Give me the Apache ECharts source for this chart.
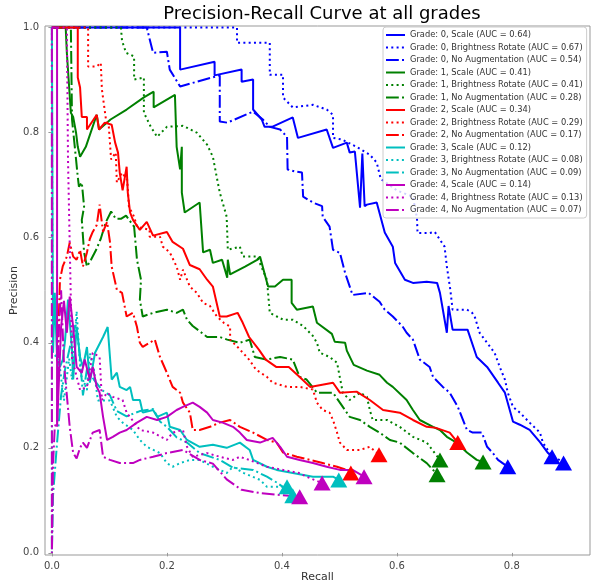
<!DOCTYPE html>
<html>
<head>
<meta charset="utf-8">
<script src="https://cdn.jsdelivr.net/npm/echarts@6/dist/echarts.min.js"></script>
<style>
  html, body { margin: 0; padding: 0; background: #fff; }
  #chart { width: 591px; height: 585px; }
</style>
</head>
<body>
<div id="chart"></div>
<script>
// tick labels
const recallTicks = [0, 0.2, 0.4, 0.6, 0.8];
const precisionTicks = [0, 0.2, 0.4, 0.6, 0.8, 1.0];

const grades = ["0", "1", "2", "3", "4"];
const gradeColors = ["#0000ff", "#008000", "#ff0000", "#00bfbf", "#bf00bf"];
const methods = ["Scale", "Brightness Rotate", "No Augmentation"];
const aucs = [
  [0.64, 0.67, 0.54],
  [0.41, 0.41, 0.28],
  [0.34, 0.29, 0.17],
  [0.12, 0.08, 0.09],
  [0.14, 0.13, 0.07],
];

// [recall, precision]
const g0Scale = [[0,1],[0.223,1],[0.223,0.92],[0.283,0.935],[0.283,0.909],[0.330,0.92],[0.330,0.897],[0.350,0.901],[0.350,0.844],[0.365,0.825],[0.370,0.811],[0.383,0.811],[0.419,0.829],[0.428,0.79],[0.478,0.806],[0.489,0.771],[0.513,0.781],[0.518,0.762],[0.527,0.764],[0.536,0.657],[0.540,0.76],[0.544,0.66],[0.548,0.663],[0.565,0.667],[0.579,0.61],[0.593,0.583],[0.597,0.552],[0.614,0.52],[0.628,0.514],[0.652,0.516],[0.670,0.514],[0.675,0.495],[0.687,0.419],[0.690,0.47],[0.697,0.425],[0.723,0.425],[0.739,0.373],[0.757,0.354],[0.776,0.324],[0.788,0.305],[0.802,0.25],[0.814,0.244],[0.831,0.234],[0.849,0.211],[0.863,0.19],[0.870,0.183]];
const g0Bright = [[0,1],[0.322,1],[0.322,0.971],[0.379,0.971],[0.379,0.91],[0.402,0.91],[0.402,0.867],[0.419,0.848],[0.454,0.853],[0.478,0.844],[0.489,0.834],[0.489,0.79],[0.504,0.787],[0.530,0.773],[0.553,0.758],[0.565,0.743],[0.572,0.712],[0.600,0.69],[0.628,0.678],[0.635,0.638],[0.636,0.609],[0.657,0.609],[0.666,0.611],[0.683,0.583],[0.687,0.545],[0.693,0.501],[0.697,0.463],[0.722,0.463],[0.731,0.457],[0.736,0.448],[0.744,0.419],[0.757,0.4],[0.770,0.381],[0.779,0.354],[0.788,0.33],[0.793,0.305],[0.802,0.278],[0.814,0.267],[0.831,0.248],[0.849,0.229],[0.854,0.21],[0.866,0.19],[0.890,0.171]];
const g0NoAug = [[0,1],[0.165,1],[0.176,0.952],[0.200,0.954],[0.205,0.92],[0.223,0.888],[0.292,0.909],[0.292,0.821],[0.305,0.819],[0.350,0.84],[0.367,0.825],[0.379,0.811],[0.397,0.806],[0.409,0.792],[0.410,0.73],[0.423,0.726],[0.435,0.724],[0.437,0.678],[0.454,0.667],[0.470,0.66],[0.471,0.64],[0.483,0.621],[0.489,0.577],[0.501,0.571],[0.510,0.533],[0.523,0.491],[0.551,0.495],[0.570,0.478],[0.579,0.463],[0.593,0.45],[0.610,0.431],[0.617,0.419],[0.628,0.406],[0.640,0.368],[0.657,0.354],[0.663,0.335],[0.680,0.316],[0.692,0.305],[0.706,0.278],[0.722,0.234],[0.732,0.229],[0.748,0.229],[0.757,0.202],[0.767,0.19],[0.776,0.177],[0.793,0.164]];

const g1Scale = [[0,1],[0.024,1],[0.026,0.952],[0.033,0.838],[0.037,0.83],[0.042,0.8],[0.045,0.773],[0.049,0.754],[0.059,0.773],[0.078,0.834],[0.082,0.806],[0.102,0.825],[0.130,0.844],[0.160,0.867],[0.177,0.878],[0.177,0.848],[0.214,0.872],[0.217,0.773],[0.223,0.73],[0.226,0.773],[0.226,0.686],[0.231,0.648],[0.257,0.667],[0.263,0.572],[0.275,0.577],[0.280,0.552],[0.296,0.558],[0.305,0.524],[0.306,0.558],[0.310,0.53],[0.336,0.545],[0.357,0.558],[0.362,0.564],[0.376,0.507],[0.388,0.507],[0.402,0.52],[0.417,0.52],[0.417,0.476],[0.426,0.463],[0.454,0.469],[0.461,0.438],[0.487,0.417],[0.492,0.402],[0.510,0.4],[0.513,0.385],[0.525,0.358],[0.548,0.347],[0.570,0.339],[0.583,0.324],[0.593,0.316],[0.617,0.291],[0.628,0.272],[0.640,0.253],[0.663,0.24],[0.675,0.234],[0.687,0.221],[0.704,0.21],[0.722,0.191],[0.739,0.177],[0.750,0.173]];
const g1Bright = [[0,1],[0.120,1],[0.122,0.975],[0.129,0.952],[0.143,0.945],[0.143,0.901],[0.160,0.905],[0.160,0.838],[0.172,0.811],[0.183,0.792],[0.200,0.811],[0.228,0.813],[0.252,0.8],[0.270,0.777],[0.280,0.754],[0.287,0.714],[0.292,0.686],[0.304,0.64],[0.306,0.577],[0.327,0.583],[0.332,0.564],[0.357,0.564],[0.374,0.52],[0.379,0.457],[0.402,0.444],[0.419,0.444],[0.437,0.432],[0.454,0.413],[0.461,0.4],[0.466,0.381],[0.483,0.373],[0.496,0.362],[0.506,0.305],[0.518,0.291],[0.536,0.305],[0.548,0.297],[0.553,0.272],[0.558,0.253],[0.583,0.253],[0.605,0.24],[0.628,0.221],[0.652,0.21],[0.675,0.177]];
const g1NoAug = [[0,1],[0.033,1],[0.035,0.825],[0.042,0.749],[0.045,0.716],[0.047,0.697],[0.052,0.705],[0.056,0.659],[0.052,0.634],[0.056,0.572],[0.061,0.545],[0.068,0.558],[0.077,0.577],[0.085,0.598],[0.094,0.63],[0.103,0.65],[0.111,0.636],[0.120,0.636],[0.129,0.642],[0.143,0.621],[0.148,0.558],[0.155,0.52],[0.153,0.482],[0.158,0.45],[0.176,0.457],[0.200,0.463],[0.217,0.457],[0.228,0.463],[0.235,0.444],[0.245,0.432],[0.270,0.411],[0.292,0.411],[0.305,0.406],[0.327,0.4],[0.344,0.406],[0.353,0.373],[0.374,0.368],[0.397,0.373],[0.419,0.368],[0.431,0.335],[0.443,0.33],[0.461,0.305],[0.478,0.305],[0.489,0.305],[0.506,0.278],[0.518,0.259],[0.536,0.253],[0.553,0.24],[0.570,0.229],[0.588,0.215],[0.605,0.21],[0.628,0.19],[0.652,0.171],[0.663,0.158],[0.670,0.149]];

const g2Scale = [[0,1],[0.045,1],[0.045,0.905],[0.049,0.886],[0.052,0.83],[0.061,0.83],[0.061,0.806],[0.078,0.834],[0.082,0.806],[0.092,0.819],[0.104,0.815],[0.110,0.781],[0.115,0.762],[0.118,0.724],[0.123,0.69],[0.130,0.735],[0.132,0.686],[0.136,0.648],[0.141,0.634],[0.153,0.615],[0.165,0.63],[0.176,0.604],[0.200,0.611],[0.210,0.592],[0.228,0.579],[0.240,0.548],[0.257,0.54],[0.270,0.52],[0.280,0.507],[0.292,0.45],[0.304,0.45],[0.323,0.457],[0.332,0.438],[0.343,0.411],[0.360,0.387],[0.372,0.368],[0.390,0.354],[0.412,0.354],[0.431,0.335],[0.449,0.316],[0.489,0.324],[0.501,0.305],[0.530,0.307],[0.553,0.291],[0.576,0.272],[0.605,0.267],[0.628,0.253],[0.652,0.24],[0.668,0.238],[0.692,0.229],[0.706,0.21]];
const g2Bright = [[0,1],[0.063,1],[0.063,0.926],[0.078,0.926],[0.085,0.933],[0.087,0.882],[0.094,0.825],[0.099,0.811],[0.103,0.749],[0.111,0.762],[0.113,0.705],[0.122,0.724],[0.131,0.71],[0.134,0.659],[0.143,0.64],[0.148,0.621],[0.170,0.615],[0.170,0.602],[0.188,0.602],[0.193,0.583],[0.205,0.572],[0.217,0.545],[0.223,0.52],[0.228,0.539],[0.240,0.507],[0.252,0.495],[0.263,0.476],[0.275,0.47],[0.287,0.45],[0.299,0.438],[0.310,0.431],[0.310,0.406],[0.323,0.392],[0.343,0.368],[0.355,0.349],[0.374,0.335],[0.384,0.324],[0.409,0.316],[0.431,0.316],[0.454,0.311],[0.461,0.286],[0.471,0.272],[0.483,0.267],[0.489,0.253],[0.496,0.229],[0.501,0.21],[0.513,0.196],[0.536,0.196],[0.553,0.202],[0.569,0.187]];
const g2NoAug = [[0.010,0.37],[0.014,0.52],[0.019,0.546],[0.026,0.564],[0.031,0.591],[0.037,0.564],[0.043,0.558],[0.049,0.577],[0.054,0.545],[0.061,0.572],[0.066,0.598],[0.071,0.611],[0.078,0.624],[0.083,0.663],[0.089,0.611],[0.096,0.63],[0.101,0.592],[0.104,0.545],[0.113,0.501],[0.122,0.495],[0.130,0.45],[0.141,0.457],[0.148,0.43],[0.153,0.4],[0.158,0.392],[0.170,0.4],[0.179,0.406],[0.188,0.373],[0.200,0.343],[0.210,0.316],[0.223,0.305],[0.228,0.286],[0.240,0.267],[0.245,0.234],[0.257,0.234],[0.275,0.24],[0.292,0.248],[0.310,0.253],[0.327,0.24],[0.350,0.229],[0.374,0.215],[0.391,0.21],[0.402,0.191],[0.426,0.183],[0.449,0.177],[0.471,0.171],[0.496,0.164],[0.513,0.158],[0.520,0.152]];

const g3Scale = [[0,1],[0.002,0.381],[0.005,0.495],[0.009,0.368],[0.014,0.354],[0.019,0.368],[0.023,0.406],[0.028,0.482],[0.035,0.387],[0.037,0.33],[0.043,0.43],[0.049,0.373],[0.054,0.354],[0.061,0.392],[0.066,0.324],[0.075,0.381],[0.089,0.411],[0.097,0.43],[0.101,0.373],[0.104,0.33],[0.113,0.343],[0.118,0.316],[0.130,0.31],[0.136,0.316],[0.141,0.291],[0.153,0.291],[0.158,0.267],[0.176,0.272],[0.183,0.259],[0.200,0.267],[0.205,0.24],[0.223,0.234],[0.235,0.215],[0.257,0.202],[0.280,0.206],[0.304,0.2],[0.327,0.21],[0.344,0.196],[0.350,0.177],[0.374,0.164],[0.391,0.158],[0.419,0.152],[0.454,0.145],[0.489,0.145],[0.499,0.139]];
const g3Bright = [[0,1],[0.001,0.38],[0.012,0.37],[0.021,0.29],[0.030,0.37],[0.035,0.33],[0.043,0.46],[0.050,0.34],[0.061,0.31],[0.066,0.38],[0.073,0.35],[0.080,0.29],[0.089,0.29],[0.101,0.29],[0.113,0.259],[0.123,0.248],[0.141,0.234],[0.153,0.215],[0.165,0.202],[0.188,0.19],[0.200,0.171],[0.210,0.164],[0.223,0.171],[0.240,0.177],[0.257,0.177],[0.280,0.164],[0.304,0.152],[0.315,0.164],[0.334,0.152],[0.362,0.139],[0.374,0.126],[0.397,0.126],[0.409,0.126]];
const g3NoAug = [[0,1],[0,0],[0.002,0.11],[0.009,0.21],[0.016,0.3],[0.023,0.35],[0.033,0.4],[0.042,0.44],[0.049,0.37],[0.054,0.3],[0.061,0.35],[0.073,0.33],[0.087,0.31],[0.101,0.3],[0.113,0.27],[0.130,0.26],[0.153,0.27],[0.176,0.274],[0.188,0.25],[0.200,0.24],[0.217,0.22],[0.235,0.21],[0.257,0.19],[0.292,0.177],[0.315,0.162],[0.350,0.158],[0.374,0.145],[0.391,0.134],[0.409,0.12],[0.419,0.109]];

const g4Scale = [[0,1],[0.009,1],[0.009,0.24],[0.016,0.43],[0.021,0.48],[0.026,0.419],[0.031,0.488],[0.037,0.43],[0.043,0.354],[0.052,0.343],[0.057,0.368],[0.066,0.33],[0.071,0.354],[0.078,0.316],[0.083,0.305],[0.089,0.259],[0.096,0.215],[0.106,0.221],[0.118,0.229],[0.130,0.234],[0.148,0.248],[0.165,0.259],[0.183,0.253],[0.200,0.259],[0.217,0.272],[0.228,0.278],[0.245,0.286],[0.257,0.278],[0.270,0.267],[0.280,0.253],[0.297,0.248],[0.315,0.24],[0.327,0.229],[0.339,0.215],[0.362,0.21],[0.384,0.219],[0.397,0.202],[0.409,0.183],[0.431,0.177],[0.454,0.171],[0.478,0.164],[0.501,0.158],[0.523,0.158],[0.543,0.145]];
const g4Bright = [[0,1],[0.026,1],[0.028,0.75],[0.035,0.37],[0.049,0.31],[0.061,0.316],[0.071,0.381],[0.083,0.373],[0.087,0.291],[0.096,0.305],[0.106,0.297],[0.123,0.291],[0.130,0.267],[0.153,0.234],[0.176,0.229],[0.200,0.215],[0.210,0.229],[0.228,0.234],[0.235,0.202],[0.245,0.183],[0.270,0.19],[0.292,0.183],[0.315,0.177],[0.327,0.183],[0.343,0.177],[0.374,0.164],[0.402,0.158],[0.430,0.152],[0.443,0.145],[0.470,0.133]];
const g4NoAug = [[0,1],[0,0],[0.002,0.17],[0.005,0.24],[0.009,0.25],[0.012,0.42],[0.016,0.5],[0.021,0.36],[0.026,0.3],[0.031,0.24],[0.037,0.19],[0.043,0.18],[0.049,0.2],[0.054,0.21],[0.061,0.2],[0.071,0.229],[0.083,0.234],[0.089,0.183],[0.101,0.177],[0.118,0.171],[0.141,0.171],[0.153,0.177],[0.176,0.183],[0.200,0.19],[0.228,0.196],[0.257,0.177],[0.280,0.17],[0.304,0.14],[0.330,0.12],[0.362,0.114],[0.397,0.11],[0.431,0.107]];

// triangle markers at the end of each curve
const g0Ends = [[0.870,0.183],[0.890,0.171],[0.793,0.164]];
const g1Ends = [[0.750,0.173],[0.675,0.177],[0.670,0.149]];
const g2Ends = [[0.706,0.210],[0.569,0.187],[0.520,0.152]];
const g3Ends = [[0.499,0.139],[0.409,0.126],[0.419,0.109]];
const g4Ends = [[0.543,0.145],[0.470,0.133],[0.431,0.107]];

const curves = [
  [g0Scale, g0Bright, g0NoAug],
  [g1Scale, g1Bright, g1NoAug],
  [g2Scale, g2Bright, g2NoAug],
  [g3Scale, g3Bright, g3NoAug],
  [g4Scale, g4Bright, g4NoAug],
];
const ends = [g0Ends, g1Ends, g2Ends, g3Ends, g4Ends];

const dashes = ["solid", [2, 3.3], [12.8, 3.2, 2, 3.2]];
const font = "DejaVu Sans";

const series = [];
const legendNames = [];
grades.forEach((g, gi) => {
  methods.forEach((m, mi) => {
    const name = `Grade: ${g}, ${m} (AUC = ${aucs[gi][mi].toFixed(2)})`;
    legendNames.push(name);
    series.push({
      name,
      type: "line",
      data: curves[gi][mi],
      symbol: "none",
      showSymbol: false,
      animation: false,
      color: gradeColors[gi],
      lineStyle: { width: 2, type: dashes[mi], color: gradeColors[gi] },
      z: 2,
    });
  });
  series.push({
    type: "scatter",
    data: ends[gi],
    symbol: "triangle",
    symbolSize: [17, 15],
    itemStyle: { color: gradeColors[gi], opacity: 1 },
    animation: false,
    z: 3,
  });
});

const chart = echarts.init(document.getElementById("chart"));
chart.setOption({
  backgroundColor: "#fff",
  title: {
    text: "Precision-Recall Curve at all grades",
    left: 317,
    textAlign: "center",
    top: 0,
    textStyle: { fontFamily: font, fontSize: 18, fontWeight: "normal", color: "#000" },
  },
  grid: {
    left: 45, right: 1, top: 26, bottom: 30,
    outerBoundsMode: "none", containLabel: false,
    show: true, borderColor: "#999", borderWidth: 1,
  },
  legend: {
    data: legendNames,
    orient: "vertical",
    left: 383,
    top: 27,
    width: 203,
    padding: [3, 4, 3, 2],
    itemWidth: 19,
    itemHeight: 10,
    itemGap: 2.5,
    itemStyle: { opacity: 0 },
    backgroundColor: "rgba(255,255,255,0.8)",
    borderColor: "#ccc",
    borderWidth: 1,
    borderRadius: 3,
    textStyle: { fontFamily: font, fontSize: 8.3, color: "#333", lineHeight: 10 },
    selectedMode: false,
  },
  xAxis: {
    type: "value",
    min: -0.012,
    max: 0.936,
    name: "Recall",
    nameLocation: "middle",
    nameGap: 17,
    nameMoveOverlap: false,
    nameTextStyle: { fontFamily: font, fontSize: 11, color: "#333" },
    axisLine: { show: false },
    splitLine: { show: false },
    axisTick: { show: true, length: 3.5, lineStyle: { color: "#999" }, customValues: recallTicks },
    axisLabel: {
      fontFamily: font, fontSize: 10, color: "#444", margin: 6,
      customValues: recallTicks,
      formatter: (v) => v.toFixed(1),
    },
  },
  yAxis: {
    type: "value",
    min: -0.004,
    max: 1.003,
    name: "Precision",
    nameLocation: "middle",
    nameGap: 25,
    nameMoveOverlap: false,
    nameTextStyle: { fontFamily: font, fontSize: 11, color: "#333" },
    axisLine: { show: false },
    splitLine: { show: false },
    axisTick: { show: true, length: 3.5, lineStyle: { color: "#999" }, customValues: precisionTicks },
    axisLabel: {
      fontFamily: font, fontSize: 10, color: "#444", margin: 6,
      customValues: precisionTicks,
      formatter: (v) => v.toFixed(1),
    },
  },
  series,
});
</script>
</body>
</html>
